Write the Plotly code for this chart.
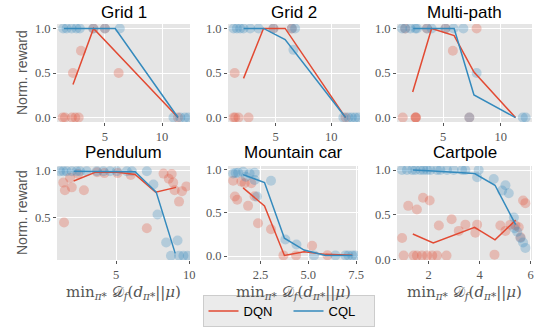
import plotly.graph_objects as go

# ---------------- data ----------------
titles = ["Grid 1", "Grid 2", "Multi-path", "Pendulum", "Mountain car", "Cartpole"]

# Grid 1
g1_dqn_x = [1.3, 1.5, 2.1, 2.4, 2.7, 2.2, 6.2, 2.9, 4.0, 5.0, 11.4]
g1_dqn_y = [0.0, 0.0, 0.0, 0.0, 0.0, 0.5, 0.5, 0.75, 1.0, 1.0, 0.0]
g1_cql_x = [1.34, 1.64, 2.08, 2.5, 2.8, 3.97, 5.0, 6.3, 11.0, 11.6, 12.0, 12.3]
g1_cql_y = [1, 1, 1, 1, 1, 1, 1, 1, 0, 0, 0, 0]
g1_dqn_lx = [2.2, 4.0, 11.4]
g1_dqn_ly = [0.37, 1.0, 0.0]
g1_cql_lx = [1.4, 4.0, 5.9, 11.4]
g1_cql_ly = [1.0, 1.0, 1.0, 0.0]

# Grid 2
g2_dqn_x = [1.2, 1.35, 1.65, 2.55, 1.3, 4.8, 6.45, 11.3]
g2_dqn_y = [0.0, 0.0, 0.0, 0.0, 0.5, 1.0, 1.0, 0.0]
g2_cql_x = [1.2, 1.5, 1.8, 2.1, 2.7, 3.45, 4.8, 6.45, 6.75, 6.6, 11.1, 11.56, 11.86, 12.16, 12.46]
g2_cql_y = [1, 1, 1, 1, 1, 1, 1, 1, 1, 0.76, 0, 0, 0, 0, 0]
g2_dqn_lx = [2.1, 3.9, 5.85, 11.3]
g2_dqn_ly = [0.44, 1.0, 1.0, 0.0]
g2_cql_lx = [2.1, 3.9, 5.85, 11.3]
g2_cql_ly = [1.0, 1.0, 0.875, 0.0]

# Multi-path
mp_dqn_x = [1.5, 2.6, 2.62, 2.65, 1.7, 3.6, 5.2, 7.9, 5.84, 7.27]
mp_dqn_y = [0.0, 0.0, 0.0, 0.0, 1.0, 1.0, 1.0, 1.0, 0.75, 0.0]
mp_cql_x = [1.44, 1.72, 2.16, 2.59, 2.73, 3.6, 4.0, 5.2, 5.9, 6.75, 7.9, 7.27, 11.9, 12.15]
mp_cql_y = [1, 1, 1, 1, 1, 1, 1, 1, 1, 1, 0.5, 0.0, 0, 0]
mp_dqn_lx = [2.36, 4.0, 5.95, 7.67, 11.27]
mp_dqn_ly = [0.286, 1.0, 0.92, 0.51, 0.0]
mp_cql_lx = [2.4, 4.0, 5.95, 7.67, 11.27]
mp_cql_ly = [1.0, 1.0, 1.0, 0.253, 0.0]

# Pendulum
pe_dqn_x = [1.39, 1.5, 1.85, 1.97, 2.8, 1.44, 7.1, 8.24, 8.8, 8.6, 8.9, 9.0, 9.3, 9.5, 9.8,
            6.0, 3.7, 4.2, 2.4, 5.1]
pe_dqn_y = [0.87, 0.79, 0.92, 0.82, 0.79, 0.45, 0.39, 0.965, 0.96, 0.91, 0.87, 0.79, 0.67, 0.78, 0.83,
            0.95, 0.98, 0.97, 0.96, 0.97]
pe_cql_x = [1.16, 1.39, 1.62, 1.97, 2.3, 2.53, 2.99, 3.68, 4.13, 4.59, 5.05, 5.73, 6.08, 7.1,
            7.55, 7.83, 8.42, 8.75, 9.2, 9.3, 9.6, 9.9]
pe_cql_y = [0.99, 0.99, 0.99, 0.99, 0.99, 0.99, 0.99, 0.99, 0.99, 0.99, 0.99, 0.99, 0.99, 0.99,
            0.85, 0.535, 0.24, 0.10, 0.26, 0.10, 0.10, 0.10]
pe_dqn_lx = [2.1, 3.6, 5.1, 6.3, 7.7, 9.1]
pe_dqn_ly = [0.887, 0.98, 0.98, 0.955, 0.77, 0.82]
pe_cql_lx = [2.1, 3.6, 6.3, 7.74, 9.04]
pe_cql_ly = [0.99, 0.99, 0.985, 0.77, 0.125]

# Mountain car
mc_dqn_x = [1.07, 1.16, 1.28, 1.5, 1.67, 1.85, 2.02, 2.19, 2.37, 3.05, 3.7, 4.36, 5.2, 6.0]
mc_dqn_y = [0.87, 0.687, 0.65, 0.86, 0.84, 0.58, 0.84, 0.69, 0.38, 0.31, 0.008, 0.008, 0.12, 0.01]
mc_cql_x = [1.07, 1.2, 1.33, 1.59, 1.73, 1.93, 2.19, 2.19, 2.31, 3.05, 3.8, 4.38, 5.3,
            6.42, 6.94, 7.1, 7.3, 7.46]
mc_cql_y = [0.954, 0.96, 0.962, 0.973, 0.916, 0.954, 0.962, 0.878, 0.687, 0.87, 0.191, 0.134, 0.008,
            0.008, 0.008, 0.008, 0.008, 0.008]
mc_dqn_lx = [1.59, 2.71, 3.75, 4.78, 5.9, 7.3]
mc_dqn_ly = [0.787, 0.578, 0.008, 0.05, 0.02, 0.01]
mc_cql_lx = [1.59, 2.71, 3.75, 4.78, 5.9, 7.3]
mc_cql_ly = [0.94, 0.85, 0.206, 0.07, 0.008, 0.008]

# Cartpole
cp_dqn_x = [0.96, 1.02, 1.2, 1.54, 1.78, 2.04, 1.41, 1.54, 1.74, 1.94, 2.14, 2.33, 2.7,
            2.4, 2.9, 3.18, 3.44, 3.83, 3.9, 4.58, 4.81, 5.01, 5.2, 5.53, 5.7, 5.79, 5.4, 5.6]
cp_dqn_y = [0.24, 0.044, 0.6, 0.56, 0.69, 0.66, 0.044, 0.044, 0.044, 0.044, 0.044, 0.044, 0.044,
            0.38, 0.45, 0.32, 0.39, 0.30, 0.39, 0.055, 0.38, 0.32, 0.39, 0.36, 0.66, 0.63, 0.38, 0.25]
cp_cql_x = [0.956, 1.15, 1.35, 1.48, 1.67, 1.8, 1.94, 2.07, 2.33, 2.46, 2.72, 2.98, 3.31, 3.44, 3.96,
            3.9, 4.55, 4.88, 5.14, 5.01, 5.34, 5.36, 5.47, 5.6, 5.7, 5.79]
cp_cql_y = [1, 1, 1, 1, 1, 1, 1, 1, 1, 1, 1, 1, 1, 1, 1,
            0.92, 0.90, 0.77, 0.74, 0.83, 0.47, 0.35, 0.31, 0.24, 0.19, 0.13]
cp_dqn_lx = [1.38, 2.18, 3.8, 4.6, 5.41]
cp_dqn_ly = [0.285, 0.185, 0.36, 0.22, 0.44]
cp_cql_lx = [1.38, 2.18, 3.8, 4.6, 5.41]
cp_cql_ly = [1.0, 0.99, 0.96, 0.83, 0.39]

panels = [
    (g1_dqn_x, g1_dqn_y, g1_cql_x, g1_cql_y, g1_dqn_lx, g1_dqn_ly, g1_cql_lx, g1_cql_ly),
    (g2_dqn_x, g2_dqn_y, g2_cql_x, g2_cql_y, g2_dqn_lx, g2_dqn_ly, g2_cql_lx, g2_cql_ly),
    (mp_dqn_x, mp_dqn_y, mp_cql_x, mp_cql_y, mp_dqn_lx, mp_dqn_ly, mp_cql_lx, mp_cql_ly),
    (pe_dqn_x, pe_dqn_y, pe_cql_x, pe_cql_y, pe_dqn_lx, pe_dqn_ly, pe_cql_lx, pe_cql_ly),
    (mc_dqn_x, mc_dqn_y, mc_cql_x, mc_cql_y, mc_dqn_lx, mc_dqn_ly, mc_cql_lx, mc_cql_ly),
    (cp_dqn_x, cp_dqn_y, cp_cql_x, cp_cql_y, cp_dqn_lx, cp_dqn_ly, cp_cql_lx, cp_cql_ly),
]

x_ranges = [[0.8, 12.45], [0.7, 12.6], [1.0, 12.7], [0.96, 10.05], [0.8, 7.6], [0.76, 6.05]]
y_ranges = [[-0.05, 1.05], [-0.05, 1.05], [-0.05, 1.05], [0.055, 1.045], [-0.045, 1.04], [-0.005, 1.045]]
x_tickvals = [[5, 10], [5, 10], [5, 10], [5, 10], [2.5, 5.0, 7.5], [2, 4, 6]]
x_ticktext = [["5", "10"], ["5", "10"], ["5", "10"], ["5", "10"], ["2.5", "5.0", "7.5"], ["2", "4", "6"]]
y_tickvals = [[0, 0.5, 1], [0, 0.5, 1], [0, 0.5, 1], [0.5, 1], [0, 0.5, 1], [0, 0.5, 1]]
y_ticktext = [["0.0", "0.5", "1.0"]] * 3 + [["0.5", "1.0"]] + [["0.0", "0.5", "1.0"]] * 2

RED = "#E24A33"
BLUE = "#348ABD"

W, H = 539, 327
x_px = [(57, 190), (228, 360), (397, 532), (57, 190), (228, 358), (397, 532)]
y_px = [(24, 122)] * 3 + [(166, 260)] * 3


def fx(p):
    return p / W


def fy(p):
    return 1 - p / H


fig = go.Figure()
tick_font = dict(family="Liberation Serif", size=12.5, color="#555555")

for i, p in enumerate(panels):
    dx, dy, cx, cy, dlx, dly, clx, cly = p
    xa = "x" if i == 0 else f"x{i+1}"
    ya = "y" if i == 0 else f"y{i+1}"
    fig.add_trace(go.Scatter(x=dx, y=dy, mode="markers", xaxis=xa, yaxis=ya,
                             marker=dict(color=RED, size=10, opacity=0.28, line=dict(width=0)),
                             showlegend=False, hoverinfo="skip"))
    fig.add_trace(go.Scatter(x=cx, y=cy, mode="markers", xaxis=xa, yaxis=ya,
                             marker=dict(color=BLUE, size=10, opacity=0.28, line=dict(width=0)),
                             showlegend=False, hoverinfo="skip"))
    fig.add_trace(go.Scatter(x=dlx, y=dly, mode="lines", xaxis=xa, yaxis=ya,
                             line=dict(color=RED, width=1.5), name="DQN",
                             showlegend=(i == 0)))
    fig.add_trace(go.Scatter(x=clx, y=cly, mode="lines", xaxis=xa, yaxis=ya,
                             line=dict(color=BLUE, width=1.5), name="CQL",
                             showlegend=(i == 0)))

    xk = "xaxis" if i == 0 else f"xaxis{i+1}"
    yk = "yaxis" if i == 0 else f"yaxis{i+1}"
    fig.layout[xk] = dict(domain=[fx(x_px[i][0]), fx(x_px[i][1])], range=x_ranges[i],
                          anchor=ya, tickvals=x_tickvals[i], ticktext=x_ticktext[i],
                          showgrid=True, gridcolor="white", gridwidth=1, zeroline=False,
                          ticks="outside", ticklen=3, tickcolor="#555555",
                          tickfont=tick_font, showline=False, automargin=False)
    fig.layout[yk] = dict(domain=[fy(y_px[i][1]), fy(y_px[i][0])], range=y_ranges[i],
                          anchor=xa, tickvals=y_tickvals[i], ticktext=y_ticktext[i],
                          showgrid=True, gridcolor="white", gridwidth=1, zeroline=False,
                          ticks="outside", ticklen=3, tickcolor="#555555",
                          tickfont=tick_font, showline=False, automargin=False)
    # title
    cxp = fx((x_px[i][0] + x_px[i][1]) / 2)
    tb = 24 if i < 3 else 164
    fig.add_annotation(text=titles[i], x=cxp, y=fy(tb), xref="paper", yref="paper",
                       xanchor="center", yanchor="bottom", showarrow=False,
                       font=dict(family="Liberation Sans", size=17, color="black"))

# y-axis labels
for r in range(2):
    yc = fy((y_px[r * 3][0] + y_px[r * 3][1]) / 2)
    fig.add_annotation(text="Norm. reward", x=fx(22), y=yc, xref="paper", yref="paper",
                       textangle=-90, showarrow=False, xanchor="center", yanchor="middle",
                       font=dict(family="Liberation Sans", size=14, color="#555555"))

# x-axis labels
xlabel = "min<sub><i>π</i>*</sub> 𝒟<sub><i>f</i></sub>(<i>d</i><sub><i>π</i>*</sub>||<i>μ</i>)"
for c in range(3):
    xc = fx((x_px[3 + c][0] + x_px[3 + c][1]) / 2)
    fig.add_annotation(text=xlabel, x=xc, y=fy(292), xref="paper", yref="paper",
                       showarrow=False, xanchor="center", yanchor="middle",
                       font=dict(family="DejaVu Serif", size=15, color="#555555"))

fig.update_layout(
    width=W, height=H,
    margin=dict(l=0, r=0, t=0, b=0),
    paper_bgcolor="white",
    plot_bgcolor="#E5E5E5",
    legend=dict(orientation="h", x=fx(288.5), y=0.0, xanchor="center", yanchor="bottom",
                bgcolor="#EBEBEB", bordercolor="#CCCCCC", borderwidth=1,
                entrywidth=40, entrywidthmode="pixels",
                font=dict(family="Liberation Sans", size=13, color="black")),
)

# remove the browser's default 8px body margin so the figure sits at the page origin
fig.write_html("out.html",
               config={"displayModeBar": False},
               post_script="document.body.style.margin='0';document.body.style.overflow='hidden';")
